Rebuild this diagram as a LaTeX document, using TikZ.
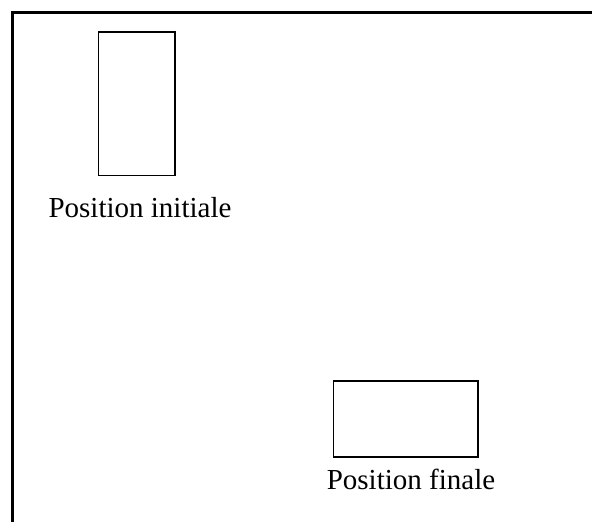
\documentclass[tikz,border=0pt]{standalone}
\usepackage{fontspec}
\setmainfont{Liberation Serif}
\begin{document}
\begin{tikzpicture}[x=1pt,y=-1pt,
  frameline/.style={line width=2.5pt},
  piece/.style={draw,line width=1.5pt,inner sep=0pt,outer sep=0pt},
  caption/.style={inner sep=0pt,anchor=base,font=\fontsize{29}{33}\selectfont}]
\useasboundingbox (0,0) rectangle (592,522);
\draw[frameline] (12.5,522) -- (12.5,12.5) -- (592,12.5);
\node[piece,minimum width=76.5pt,minimum height=143.5pt] (init) at (136.75,103.75) {};
\node[caption] (initlbl) at (140,217) {Position initiale};
\node[piece,minimum width=144.5pt,minimum height=76pt] (fin) at (405.75,419) {};
\node[caption] (finlbl) at (411,489) {Position finale};
\end{tikzpicture}
\end{document}
